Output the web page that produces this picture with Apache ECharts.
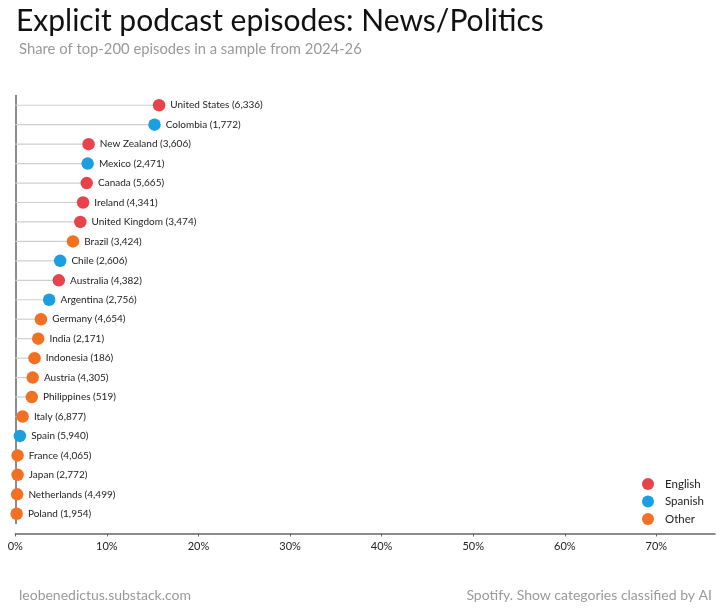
<!DOCTYPE html>
<html>
<head>
<meta charset="utf-8">
<script src="https://cdn.jsdelivr.net/npm/echarts@6/dist/echarts.min.js"></script>
<style>
  html, body { margin: 0; padding: 0; background: #fff; }
  #chart { width: 720px; height: 608px; }
</style>
</head>
<body>
<div id="chart"></div>
<script>
const countries = ['United States', 'Colombia', 'New Zealand', 'Mexico', 'Canada', 'Ireland',
  'United Kingdom', 'Brazil', 'Chile', 'Australia', 'Argentina', 'Germany', 'India',
  'Indonesia', 'Austria', 'Philippines', 'Italy', 'Spain', 'France', 'Japan',
  'Netherlands', 'Poland']
const episodes = [6336, 1772, 3606, 2471, 5665, 4341, 3474, 3424, 2606, 4382, 2756, 4654,
  2171, 186, 4305, 519, 6877, 5940, 4065, 2772, 4499, 1954]
const sharePct = [15.7, 15.2, 8.0, 7.9, 7.8, 7.4, 7.1, 6.3, 4.9, 4.75, 3.7, 2.8,
  2.5, 2.1, 1.9, 1.8, 0.8, 0.5, 0.25, 0.25, 0.2, 0.15]
const language = ['English', 'Spanish', 'English', 'Spanish', 'English', 'English',
  'English', 'Other', 'Spanish', 'English', 'Spanish', 'Other', 'Other',
  'Other', 'Other', 'Other', 'Other', 'Spanish', 'Other', 'Other', 'Other', 'Other']
const languages = ['English', 'Spanish', 'Other']
const xTicks = [0, 10, 20, 30, 40, 50, 60, 70]

const colors = { English: '#E8434B', Spanish: '#1B9FE0', Other: '#F27022' }
const font = 'Lato, "Open Sans", sans-serif'

const chart = echarts.init(document.getElementById('chart'))

// reverse so the first country sits at the top of the category axis
const cats = countries.slice().reverse()

const scatterSeries = languages.map((lang) => ({
  name: lang,
  type: 'scatter',
  symbolSize: 12.5,
  z: 3,
  itemStyle: { color: colors[lang], opacity: 1 },
  label: {
    show: true,
    position: 'right',
    distance: 5,
    color: '#222',
    fontSize: 10,
    fontFamily: font,
    formatter: (p) => p.data.label,
  },
  data: countries
    .map((c, i) => ({
      value: [sharePct[i], c],
      label: c + ' (' + episodes[i].toLocaleString('en-US') + ')',
      lang: language[i],
    }))
    .filter((d) => d.lang === lang)
    .map((d) => ({ value: d.value, label: d.label })),
}))

chart.setOption({
  animation: false,
  title: [
    {
      text: 'Explicit podcast episodes: News/Politics',
      left: 11, top: 1,
      textStyle: { fontFamily: font, fontWeight: 'normal', fontSize: 30, color: '#111' },
    },
    {
      text: 'Share of top-200 episodes in a sample from 2024-26',
      left: 14, top: 37,
      textStyle: { fontFamily: font, fontWeight: 'normal', fontSize: 14.8, color: '#9a9a9a' },
    },
    {
      text: 'leobenedictus.substack.com',
      left: 14, top: 583,
      textStyle: { fontFamily: font, fontWeight: 'normal', fontSize: 14, color: '#9a9a9a' },
    },
    {
      text: 'Spotify. Show categories classified by AI',
      right: 3, top: 583,
      textStyle: { fontFamily: font, fontWeight: 'normal', fontSize: 14, color: '#9a9a9a' },
    },
  ],
  legend: {
    data: languages,
    orient: 'vertical',
    left: 637,
    top: 473,
    icon: 'circle',
    itemWidth: 12,
    itemHeight: 12,
    itemGap: 5.5,
    textStyle: { fontFamily: font, fontSize: 11.5, color: '#222', padding: [0, 0, 0, 6] },
  },
  grid: { left: 15.3, right: 5, top: 95.5, bottom: 84.5 },
  xAxis: {
    type: 'value',
    min: 0,
    max: 76.4,
    interval: 10,
    offset: 10,
    axisLine: { show: true, lineStyle: { color: '#666', width: 1.5 } },
    axisTick: { show: true, length: 3, lineStyle: { color: '#666' } },
    splitLine: { show: false },
    axisLabel: {
      color: '#222',
      fontSize: 11,
      fontFamily: font,
      margin: 7,
      showMaxLabel: false,
      formatter: (v) => (xTicks.includes(v) ? v + '%' : ''),
    },
  },
  yAxis: {
    type: 'category',
    data: cats,
    axisLine: { show: true, lineStyle: { color: '#666', width: 1.5 } },
    axisTick: { show: false },
    axisLabel: { show: false },
    splitLine: { show: false },
  },
  series: [
    {
      name: 'stem',
      type: 'bar',
      barWidth: 1.2,
      z: 1,
      silent: true,
      itemStyle: { color: '#cfcfcf' },
      data: countries.map((c, i) => [sharePct[i], c]),
    },
    ...scatterSeries,
  ],
})
</script>
</body>
</html>
